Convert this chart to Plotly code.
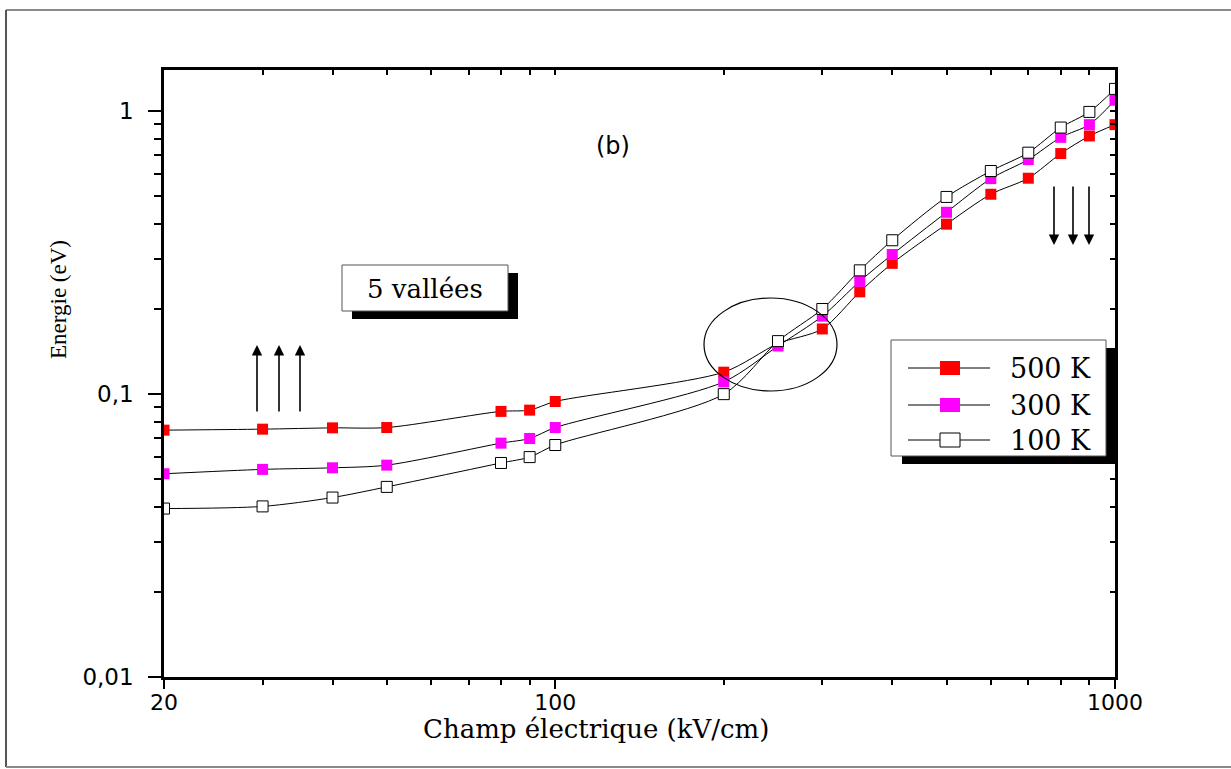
import plotly.graph_objects as go

# ---------------- data ----------------
champ = [20, 30, 40, 50, 80, 90, 100, 200, 250, 300, 350, 400, 500, 600, 700, 800, 900, 1000]
e_500K = [0.0746, 0.0752, 0.0760, 0.0762, 0.0869, 0.0878, 0.0942, 0.1196, 0.151, 0.170,
          0.230, 0.290, 0.399, 0.509, 0.580, 0.709, 0.818, 0.897]
e_300K = [0.0523, 0.0542, 0.0549, 0.0561, 0.0671, 0.0697, 0.0762, 0.1105, 0.148, 0.1887,
          0.2506, 0.3116, 0.4396, 0.578, 0.675, 0.809, 0.897, 1.094]
e_100K = [0.0394, 0.0401, 0.0431, 0.0470, 0.0571, 0.0599, 0.0661, 0.100, 0.154, 0.200,
          0.274, 0.350, 0.498, 0.615, 0.714, 0.876, 0.995, 1.20]
series_names = ["500 K", "300 K", "100 K"]

x_tickvals = [20, 100, 1000]
x_ticktext = ["20", "100", "1000"]
x_minor = [30, 40, 50, 60, 70, 80, 90, 200, 300, 400, 500, 600, 700, 800, 900]
y_tickvals = [0.01, 0.1, 1]
y_ticktext = ["0,01", "0,1", "1"]
y_minor = [0.02, 0.03, 0.04, 0.05, 0.06, 0.07, 0.08, 0.09,
           0.2, 0.3, 0.4, 0.5, 0.6, 0.7, 0.8, 0.9]

# ---------------- layout helpers (pixel -> paper) ----------------
L, R, T, B = 164, 1115, 70, 677
def px(xp):
    return (xp - L) / (R - L)
def py(yp):
    return (B - yp) / (B - T)

xr = [1.30103, 3.0]
yr = [-2.0, 0.146]

fig = go.Figure()

fills = ["#ff0000", "#ff00ff", "#ffffff"]
edges = [dict(width=0), dict(width=0), dict(width=1, color="#000000")]
for name, vals, fc, ed in zip(series_names, [e_500K, e_300K, e_100K], fills, edges):
    fig.add_trace(go.Scatter(
        x=champ, y=vals, name=name, mode="lines+markers",
        line=dict(color="#000000", width=1, shape="spline", smoothing=0.8),
        marker=dict(symbol="square", size=11, color=fc, line=ed),
    ))

# dummy trace for mirrored inner ticks (top/right)
fig.add_trace(go.Scatter(x=[None], y=[None], xaxis="x2", yaxis="y2",
                         showlegend=False, hoverinfo="skip"))

xtickfont = dict(family="DejaVu Sans", size=22, color="#000000")
ytickfont = dict(family="DejaVu Sans", size=23, color="#000000")

fig.update_layout(
    width=1231, height=769, autosize=False,
    margin=dict(l=L, r=1231 - R, t=T, b=769 - B),
    paper_bgcolor="white", plot_bgcolor="white",
    showlegend=False,
    xaxis=dict(type="log", range=xr, showgrid=False, zeroline=False,
               showline=True, linecolor="black", linewidth=2.5, mirror=True,
               tickmode="array", tickvals=x_tickvals, ticktext=x_ticktext,
               ticks="outside", ticklen=9, tickwidth=2, tickcolor="black",
               tickfont=xtickfont, ticklabelstandoff=-5,
               minor=dict(tickmode="array", tickvals=x_minor, ticks="outside",
                          ticklen=5, tickwidth=2, tickcolor="black", showgrid=False)),
    yaxis=dict(type="log", range=yr, showgrid=False, zeroline=False,
               showline=True, linecolor="black", linewidth=2.5, mirror=True,
               tickmode="array", tickvals=y_tickvals, ticktext=y_ticktext,
               ticks="outside", ticklen=13, tickwidth=2, tickcolor="black",
               tickfont=ytickfont, ticklabelstandoff=10,
               minor=dict(tickmode="array", tickvals=y_minor, ticks="outside",
                          ticklen=7, tickwidth=2, tickcolor="black", showgrid=False)),
    xaxis2=dict(type="log", range=xr, overlaying="x", side="top", anchor="y2",
                showgrid=False, zeroline=False, showticklabels=False,
                tickmode="array", tickvals=x_tickvals + x_minor,
                ticks="inside", ticklen=5, tickwidth=2, tickcolor="black"),
    yaxis2=dict(type="log", range=yr, overlaying="y", side="right", anchor="x2",
                showgrid=False, zeroline=False, showticklabels=False,
                tickmode="array", tickvals=y_tickvals + y_minor,
                ticks="inside", ticklen=5, tickwidth=2, tickcolor="black"),
)

shapes = []
# outer frame of the figure
frame_col = "#8a8a8a"
shapes.append(dict(type="line", xref="paper", yref="paper", x0=px(6), x1=px(1231), y0=py(10), y1=py(10),
                   line=dict(color=frame_col, width=2)))
shapes.append(dict(type="line", xref="paper", yref="paper", x0=px(6), x1=px(6), y0=py(10), y1=py(767),
                   line=dict(color="#555555", width=2)))
shapes.append(dict(type="line", xref="paper", yref="paper", x0=px(6), x1=px(1231), y0=py(767), y1=py(767),
                   line=dict(color=frame_col, width=2)))
# "5 vallées" box with shadow
shapes.append(dict(type="rect", xref="paper", yref="paper", x0=px(352), x1=px(518), y0=py(273), y1=py(319),
                   fillcolor="black", line=dict(width=0), layer="above"))
shapes.append(dict(type="rect", xref="paper", yref="paper", x0=px(342), x1=px(508), y0=py(265), y1=py(311),
                   fillcolor="white", line=dict(color="#555555", width=1), layer="above"))
# legend box with shadow
shapes.append(dict(type="rect", xref="paper", yref="paper", x0=px(902), x1=px(1117), y0=py(348), y1=py(464),
                   fillcolor="black", line=dict(width=0), layer="above"))
shapes.append(dict(type="rect", xref="paper", yref="paper", x0=px(891), x1=px(1106), y0=py(340), y1=py(456),
                   fillcolor="white", line=dict(color="#555555", width=1), layer="above"))
leg_y = [368, 405, 440]
for yy, fc, ed in zip(leg_y, fills, edges):
    shapes.append(dict(type="line", xref="paper", yref="paper", x0=px(908), x1=px(990), y0=py(yy), y1=py(yy),
                       line=dict(color="black", width=1), layer="above"))
    lw = ed.get("width", 0)
    shapes.append(dict(type="rect", xref="paper", yref="paper", x0=px(940), x1=px(960),
                       y0=py(yy - 7), y1=py(yy + 7), fillcolor=fc,
                       line=dict(color="black" if lw else fc, width=lw if lw else 0), layer="above"))
# ellipse around the crossing region
shapes.append(dict(type="circle", xref="paper", yref="paper", x0=px(704), x1=px(837), y0=py(298), y1=py(391),
                   line=dict(color="black", width=1.2), layer="above"))
fig.update_layout(shapes=shapes)

ann = []
def text(t, xp, yp, fam, size, angle=0, xanchor="center"):
    ann.append(dict(text=t, xref="paper", yref="paper", x=px(xp), y=py(yp), textangle=angle,
                    xanchor=xanchor, yanchor="middle", showarrow=False,
                    font=dict(family=fam, size=size, color="black")))

text("Champ électrique (kV/cm)", 596, 729, "DejaVu Serif", 26)
text("Energie (eV)", 58, 300, "Liberation Serif", 23, angle=-90)
text("(b)", 613, 146, "DejaVu Sans", 24)
text("5 vallées", 425, 289, "DejaVu Serif", 26)
for yy, nm in zip(leg_y, series_names):
    text(nm, 1008, yy, "DejaVu Serif", 27, xanchor="left")

for xa in [257, 279, 300]:
    ann.append(dict(text="", xref="paper", yref="paper", x=px(xa), y=py(345), ax=0, ay=68,
                    showarrow=True, arrowhead=2, arrowsize=1.3, arrowwidth=1.6, arrowcolor="black",
                    standoff=0, startstandoff=0))
for xa in [1054, 1073, 1089]:
    ann.append(dict(text="", xref="paper", yref="paper", x=px(xa), y=py(245), ax=0, ay=-60,
                    showarrow=True, arrowhead=2, arrowsize=1.3, arrowwidth=1.6, arrowcolor="black",
                    standoff=0, startstandoff=0))
fig.update_layout(annotations=ann)

fig.write_html("out.html")
